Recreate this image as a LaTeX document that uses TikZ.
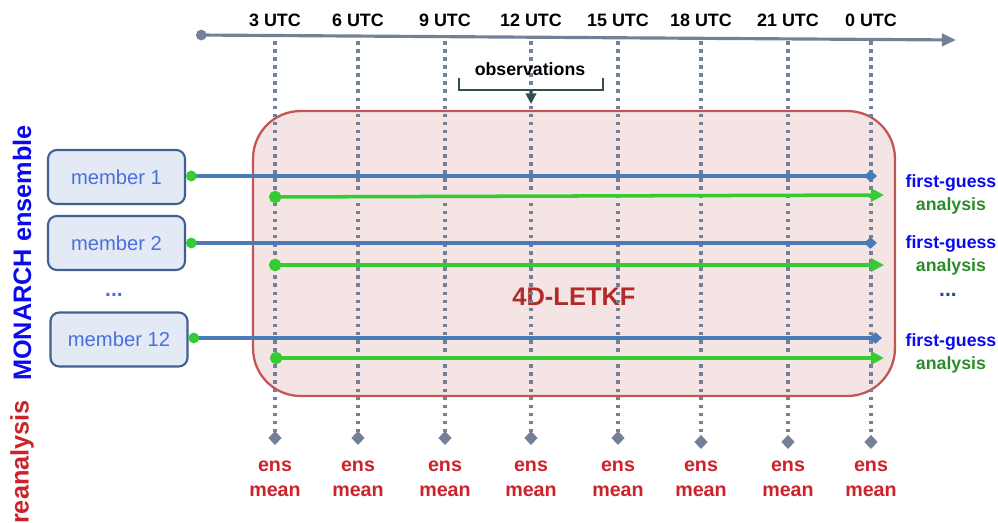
\documentclass[tikz,border=0pt]{standalone}
\usepackage{fontspec}
\setmainfont{Liberation Sans}
\usetikzlibrary{arrows.meta,positioning}
\definecolor{axisgray}{HTML}{738196}
\definecolor{memblue}{HTML}{4A7AB8}
\definecolor{memfill}{HTML}{E4EAF5}
\definecolor{memline}{HTML}{40618F}
\definecolor{memtext}{HTML}{4A6FDC}
\definecolor{fgreen}{HTML}{33CC33}
\definecolor{boxfill}{HTML}{F4E4E4}
\definecolor{boxline}{HTML}{C25555}
\definecolor{ensred}{HTML}{CC2229}
\definecolor{letkfred}{HTML}{B22A2A}
\definecolor{obsdark}{HTML}{2F4F4A}
\definecolor{anagreen}{HTML}{2A8C2A}
\definecolor{fgblue}{HTML}{0A0AEE}
\definecolor{dotblue}{HTML}{1F4E9C}
\tikzset{
	member/.style={draw=memline,line width=1.2pt,fill=memfill,rounded corners=5pt,
		minimum width=2.74cm,minimum height=1.08cm,text=memtext,font=\fontsize{11.5}{13}\selectfont},
	utc/.style={font=\bfseries\fontsize{10.2}{12}\selectfont},
	ensmean/.style={text=ensred,align=center,font=\bfseries\fontsize{11.2}{14.2}\selectfont},
	output/.style={align=center,font=\bfseries\fontsize{10.1}{13}\selectfont},
	timeline/.style={axisgray,line width=2pt,dash pattern=on 2pt off 2.6pt},
	fgline/.style={memblue,line width=2pt,{Circle[fgreen,length=6pt]}-{Diamond[length=7.5pt,width=6.5pt]}},
	anline/.style={fgreen,line width=2pt,{Circle[length=7pt]}-{Triangle[length=7.5pt,width=7.5pt]}},
}
\begin{document}
\begin{tikzpicture}[x=0.02cm,y=-0.02cm]
	\useasboundingbox (0,0) rectangle (998,523);
	\clip (0,0) rectangle (998,523);
	% time axis
	\coordinate (ax0) at (196,35);
	\coordinate (ax1) at (956,40);
	\draw[axisgray,line width=1.8pt,{Circle[length=6pt]}-{Triangle[length=8pt,width=7pt]}] (ax0) -- (ax1);
	% assimilation window
	\node[draw=boxline,line width=1.3pt,fill=boxfill,rounded corners=0.95cm,
		minimum width=12.84cm,minimum height=5.7cm] (letkf) at (574,253.5) {};
	\node[text=letkfred,font=\bfseries\fontsize{14.5}{16}\selectfont] (letkfname) at (574,297) {4D-LETKF};
	% analysis times and ensemble means
	\foreach \x/\t/\yb in {275/3/445,358/6/445,445/9/445,531/12/445,618/15/445,701/18/449,788/21/449,871/0/449}{
		\node[utc] (u\t) at (\x,20) {\t\ UTC};
		\coordinate (top\t) at (\x,41);
		\coordinate (bot\t) at (\x,\yb);
		\draw[timeline,-{Diamond[length=8pt,width=7.5pt]}] (top\t) -- (bot\t);
		\node[ensmean] (ens\t) at (\x,479) {ens\\mean};
	}
	% observations
	\node[font=\bfseries\fontsize{10.1}{12}\selectfont] (obs) at (530,69) {observations};
	\draw[obsdark,line width=1.6pt] (459,78) |- (603,90) -- (603,78);
	\draw[obsdark,line width=1.2pt,-{Triangle[length=6pt,width=6pt]}] (531,90) -- (531,104);
	% ensemble members
	\node[member] (m1) at (116.5,177) {member 1};
	\node[member] (m2) at (116.5,243) {member 2};
	\node[member] (m12) at (119,339.5) {member 12};
	\node[text=memtext,font=\bfseries\fontsize{12}{14}\selectfont] (mdots) at (114,295) {...};
	% outputs
	\node[output] (out1) at (951,194) {\textcolor{fgblue}{first-guess}\\\textcolor{anagreen}{analysis}};
	\node[output] (out2) at (951,255) {\textcolor{fgblue}{first-guess}\\\textcolor{anagreen}{analysis}};
	\node[output] (out12) at (951,353) {\textcolor{fgblue}{first-guess}\\\textcolor{anagreen}{analysis}};
	\node[text=dotblue,font=\bfseries\fontsize{12}{14}\selectfont] (odots) at (948,295) {...};
	% forecasts and analyses
	\coordinate (fg1) at (877,176);
	\coordinate (fg2) at (877,243);
	\coordinate (fg12) at (882,338);
	\coordinate (an1) at (884,195);
	\coordinate (an2) at (884,265);
	\coordinate (an12) at (884,358);
	\draw[fgline] (m1.east |- 0,176) -- (fg1);
	\draw[fgline] (m2.east |- 0,243) -- (fg2);
	\draw[fgline] (m12.east |- 0,338) -- (fg12);
	\draw[anline] (269,197) -- (an1);
	\draw[anline] (269,265) -- (an2);
	\draw[anline] (270,358) -- (an12);
	% side labels
	\node[rotate=90,text=fgblue,font=\bfseries\fontsize{14.4}{16}\selectfont] (ensname) at (22,253) {MONARCH ensemble};
	\node[rotate=90,text=ensred,font=\bfseries\fontsize{14.4}{16}\selectfont] (reaname) at (22,462) {reanalysis};
\end{tikzpicture}
\end{document}
